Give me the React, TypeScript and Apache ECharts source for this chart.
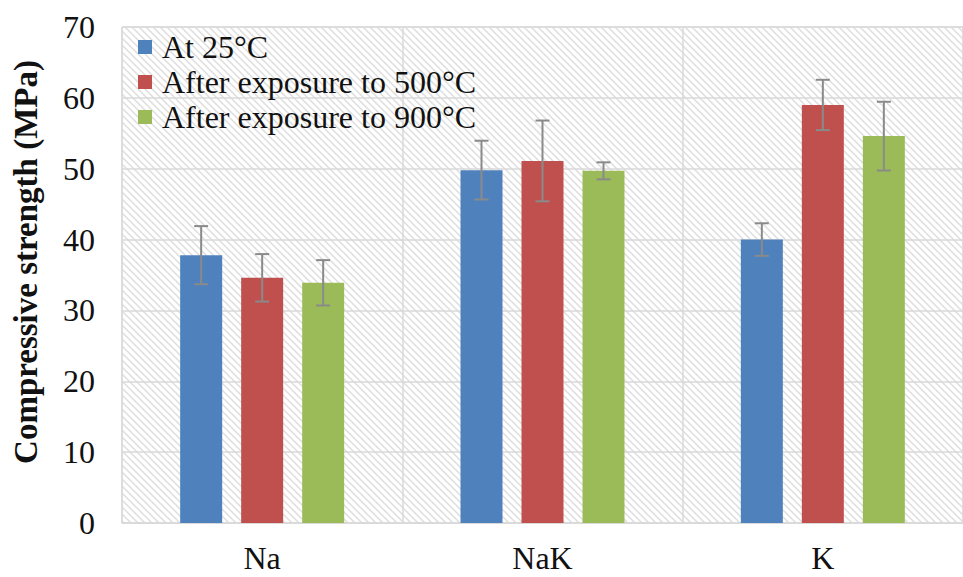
import React, { useEffect, useRef } from "react";
import * as echarts from "echarts";

const categories = ["Na", "NaK", "K"];
const seriesNames = ["At 25°C", "After exposure to 500°C", "After exposure to 900°C"];
const at25 = [37.8, 49.8, 40.0];
const at500 = [34.6, 51.1, 59.0];
const at900 = [33.9, 49.7, 54.6];
const err25 = [4.1, 4.15, 2.3];
const err500 = [3.35, 5.7, 3.55];
const err900 = [3.2, 1.2, 4.85];
const yTicks = { min: 0, max: 70, interval: 10 };

const colors = ["#4F81BD", "#C0504D", "#9BBB59"];

function makeHatch(): string {
  const s = 7;
  const c = document.createElement("canvas");
  c.width = s;
  c.height = s;
  const ctx = c.getContext("2d")!;
  ctx.fillStyle = "#ffffff";
  ctx.fillRect(0, 0, s, s);
  ctx.strokeStyle = "#dedede";
  ctx.lineWidth = 1.5;
  ctx.beginPath();
  ctx.moveTo(-1, -1);
  ctx.lineTo(s + 1, s + 1);
  ctx.moveTo(-1, s - 1);
  ctx.lineTo(1, s + 1);
  ctx.moveTo(s - 1, -1);
  ctx.lineTo(s + 1, 1);
  ctx.stroke();
  return c.toDataURL();
}

export default function App() {
  const ref = useRef<HTMLDivElement>(null);
  useEffect(() => {
    if (!ref.current) return;
    const chart = echarts.init(ref.current, undefined, { renderer: "svg" });
    const values = [at25, at500, at900];
    const errs = [err25, err500, err900];
    const barWidth = 42;
    const barGapPx = 19;
    const font = "Liberation Serif";

    const errorSeries = values.map((vals, si) => ({
      type: "custom",
      name: seriesNames[si] + " err",
      z: 5,
      silent: true,
      data: vals.map((v, i) => [i, v - errs[si][i], v + errs[si][i]]),
      renderItem: (params: any, api: any) => {
        const xi = api.value(0);
        const lo = api.coord([xi, api.value(1)]);
        const hi = api.coord([xi, api.value(2)]);
        const off = (si - 1) * (barWidth + barGapPx);
        const x = lo[0] + off;
        const cap = 7;
        const style = { stroke: "#8a8a8a", lineWidth: 2 };
        return {
          type: "group",
          children: [
            { type: "line", shape: { x1: x, y1: lo[1], x2: x, y2: hi[1] }, style },
            { type: "line", shape: { x1: x - cap, y1: hi[1], x2: x + cap, y2: hi[1] }, style },
            { type: "line", shape: { x1: x - cap, y1: lo[1], x2: x + cap, y2: lo[1] }, style },
          ],
        };
      },
    }));

    chart.setOption({
      animation: false,
      backgroundColor: "#ffffff",
      grid: {
        left: 122,
        top: 27,
        width: 849,
        height: 496,
        show: true,
        borderColor: "#d9d9d9",
        borderWidth: 1,
        backgroundColor: {
          image: makeHatch(),
          repeat: "repeat",
          imageWidth: 7,
          imageHeight: 7,
        } as any,
      },
      legend: {
        orient: "vertical",
        left: 138,
        top: 31,
        padding: 0,
        itemWidth: 14,
        itemHeight: 14,
        itemGap: 3,
        icon: "rect",
        data: seriesNames,
        textStyle: {
          fontFamily: font,
          fontSize: 32,
          lineHeight: 32,
          color: "#111",
          padding: [0, 0, 0, 5],
        },
      },
      xAxis: {
        type: "category",
        data: categories,
        axisTick: { show: false },
        axisLine: { lineStyle: { color: "#d9d9d9", width: 1.5 } },
        splitLine: { show: true, lineStyle: { color: "#d9d9d9", width: 1.5 } },
        axisLabel: { fontFamily: font, fontSize: 32, lineHeight: 32, color: "#111", margin: 19 },
      },
      yAxis: {
        type: "value",
        min: yTicks.min,
        max: yTicks.max,
        interval: yTicks.interval,
        name: "Compressive strength (MPa)",
        nameLocation: "middle",
        nameRotate: 90,
        nameGap: 80,
        nameTextStyle: {
          fontFamily: font,
          fontSize: 33,
          fontWeight: "bold",
          color: "#111",
          padding: [0, 0, 0, 26],
        },
        axisLine: { show: false },
        axisTick: { show: false },
        splitLine: { lineStyle: { color: "#d9d9d9", width: 1.5 } },
        axisLabel: { fontFamily: font, fontSize: 32, color: "#111", margin: 27 },
      },
      series: [
        ...values.map((vals, si) => ({
          type: "bar",
          name: seriesNames[si],
          data: vals,
          barWidth,
          barGap: (barGapPx / barWidth) * 100 + "%",
          itemStyle: { color: colors[si] },
        })),
        ...errorSeries,
      ],
    } as any);
    return () => chart.dispose();
  }, []);
  return <div ref={ref} style={{ width: 963, height: 577, position: "absolute", left: 0, top: 0 }} />;
}
